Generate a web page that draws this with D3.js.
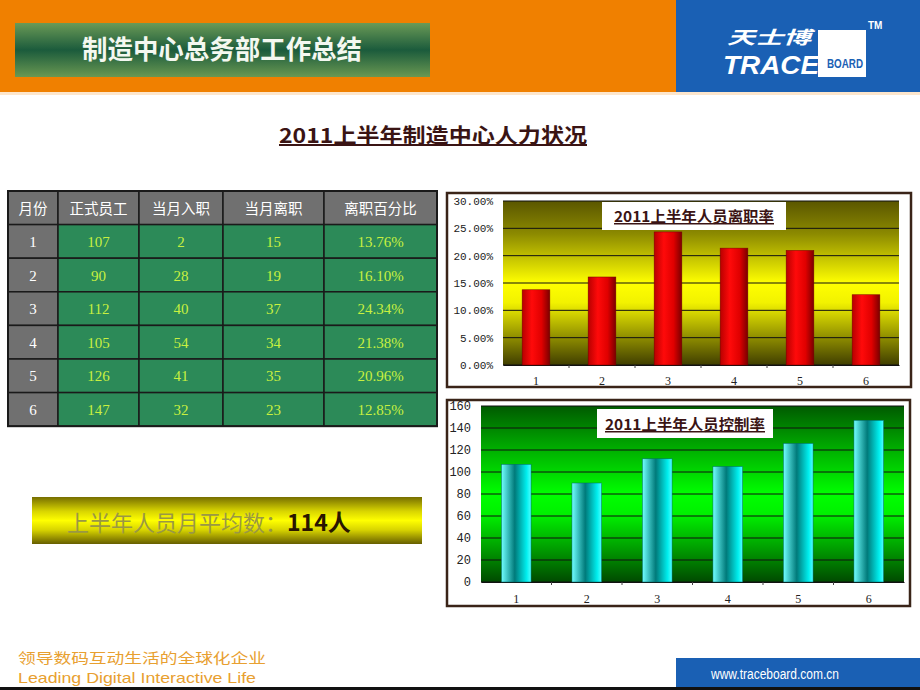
<!DOCTYPE html>
<html><head><meta charset="utf-8">
<script src="https://cdn.jsdelivr.net/npm/d3@7"></script>
<style>body{margin:0;background:#fff}svg{display:block}</style></head>
<body>
<script>
// ---------- data ----------
const months = ["1","2","3","4","5","6"];
const staff = [107, 90, 112, 105, 126, 147];
const joined = [2, 28, 40, 54, 41, 32];
const leftCount = [15, 19, 37, 34, 35, 23];
const leaveRate = [13.76, 16.10, 24.34, 21.38, 20.96, 12.85];
const tableHeaders = ["月份", "正式员工", "当月入职", "当月离职", "离职百分比"];
const rateTicks = [0, 5, 10, 15, 20, 25, 30];
const staffTicks = [0, 20, 40, 60, 80, 100, 120, 140, 160];
const pageTitle = "制造中心总务部工作总结";
const mainTitle = "2011上半年制造中心人力状况";
const chart1Title = "2011上半年人员离职率";
const chart2Title = "2011上半年人员控制率";
const avgLabel = "上半年人员月平均数：";
const avgValue = "114人";

const CJK = "'Noto Sans CJK SC','Noto Sans',sans-serif";
const SERIF = "'Liberation Serif','DejaVu Serif',serif";
const MONO = "'Liberation Mono','DejaVu Sans Mono',monospace";

const svg = d3.select("body").append("svg").attr("width", 920).attr("height", 690);
const defs = svg.append("defs");

function vgrad(id, stops) {
  const g = defs.append("linearGradient").attr("id", id).attr("x1", 0).attr("y1", 0).attr("x2", 0).attr("y2", 1);
  stops.forEach(s => g.append("stop").attr("offset", s[0]).attr("stop-color", s[1]));
}
function hgrad(id, stops) {
  const g = defs.append("linearGradient").attr("id", id).attr("x1", 0).attr("y1", 0).attr("x2", 1).attr("y2", 0);
  stops.forEach(s => g.append("stop").attr("offset", s[0]).attr("stop-color", s[1]));
}
vgrad("hdrGreen", [[0, "#6b9a56"], [0.5, "#1b5b3c"], [1, "#6a9852"]]);
vgrad("yellowBg", [[0, "#5a5600"], [0.2, "#8c8a00"], [0.5, "#ffff00"], [0.62, "#f2f200"], [1, "#403e00"]]);
vgrad("greenBg", [[0, "#005a00"], [0.25, "#00b000"], [0.5, "#00ff00"], [0.62, "#00f000"], [1, "#004a00"]]);
vgrad("avgBg", [[0, "#766e00"], [0.3, "#d8d400"], [0.5, "#ffff00"], [0.7, "#d8d400"], [1, "#665e00"]]);
hgrad("redBar", [[0, "#b80000"], [0.35, "#ff0a0a"], [0.7, "#e00000"], [1, "#7a0000"]]);
hgrad("cyanBar", [[0, "#70ffff"], [0.45, "#007a7a"], [0.85, "#00eeee"], [1, "#50ffff"]]);

// ---------- header ----------
svg.append("rect").attr("x", 0).attr("y", 0).attr("width", 920).attr("height", 92).attr("fill", "#f08000");
svg.append("rect").attr("x", 0).attr("y", 92).attr("width", 920).attr("height", 3).attr("fill", "#fde6cc");
svg.append("rect").attr("x", 676).attr("y", 0).attr("width", 244).attr("height", 92).attr("fill", "#1a60b4");
svg.append("rect").attr("x", 15).attr("y", 23).attr("width", 415).attr("height", 54).attr("fill", "url(#hdrGreen)");
svg.append("text").attr("x", 222).attr("y", 59).attr("text-anchor", "middle")
  .attr("font-family", CJK).attr("font-weight", "bold").attr("font-size", 26).attr("fill", "#f4f8f0")
  .attr("textLength", 280).attr("lengthAdjust", "spacingAndGlyphs").text(pageTitle);

// logo
svg.append("text").attr("x", 727).attr("y", 44).attr("font-family", CJK).attr("font-size", 18)
  .attr("font-weight", "bold").attr("font-style", "italic").attr("fill", "#fff")
  .attr("textLength", 84).attr("lengthAdjust", "spacingAndGlyphs").text("天士博");
svg.append("rect").attr("x", 818).attr("y", 30).attr("width", 48).attr("height", 47).attr("fill", "#fff");
svg.append("text").attr("x", 723).attr("y", 74).attr("font-family", "'Liberation Sans',Arial,sans-serif")
  .attr("font-size", 26).attr("font-weight", "bold").attr("font-style", "italic").attr("fill", "#fff")
  .attr("textLength", 96).attr("lengthAdjust", "spacingAndGlyphs").text("TRACE");
svg.append("text").attr("x", 827).attr("y", 68).attr("font-family", "'Liberation Sans',Arial,sans-serif")
  .attr("font-size", 13).attr("font-weight", "bold").attr("fill", "#1a60b4")
  .attr("textLength", 36).attr("lengthAdjust", "spacingAndGlyphs").text("BOARD");
svg.append("text").attr("x", 868).attr("y", 29).attr("font-family", "'Liberation Sans',Arial,sans-serif")
  .attr("font-size", 10).attr("font-weight", "bold").attr("fill", "#fff").text("TM");

// main title
svg.append("text").attr("x", 433).attr("y", 143).attr("text-anchor", "middle")
  .attr("font-family", CJK).attr("font-weight", "bold").attr("font-size", 20).attr("fill", "#3a1414")
  .attr("text-decoration", "underline")
  .attr("textLength", 308).attr("lengthAdjust", "spacingAndGlyphs").text(mainTitle);

// ---------- table ----------
const colX = [8, 58, 139, 223, 324, 437];
const rowY = d3.range(8).map(i => 191 + i * 33.6);
const tbl = svg.append("g");
const rowsData = months.map((m, i) => [m, staff[i], joined[i], leftCount[i], leaveRate[i].toFixed(2) + "%"]);
tableHeaders.forEach((h, c) => {
  tbl.append("rect").attr("x", colX[c]).attr("y", rowY[0]).attr("width", colX[c + 1] - colX[c]).attr("height", rowY[1] - rowY[0])
    .attr("fill", "#707070").attr("stroke", "#1a1a1a").attr("stroke-width", 1.5);
  tbl.append("text").attr("x", (colX[c] + colX[c + 1]) / 2).attr("y", rowY[0] + 23).attr("text-anchor", "middle")
    .attr("font-family", CJK).attr("font-size", 14.5).attr("fill", "#fff").text(h);
});
rowsData.forEach((row, r) => {
  row.forEach((v, c) => {
    const y0 = rowY[r + 1], y1 = rowY[r + 2];
    tbl.append("rect").attr("x", colX[c]).attr("y", y0).attr("width", colX[c + 1] - colX[c]).attr("height", y1 - y0)
      .attr("fill", c === 0 ? "#707070" : "#2c8a58").attr("stroke", "#1a1a1a").attr("stroke-width", 1.5);
    tbl.append("text").attr("x", (colX[c] + colX[c + 1]) / 2).attr("y", (y0 + y1) / 2 + 5.5).attr("text-anchor", "middle")
      .attr("font-family", SERIF).attr("font-size", 15)
      .attr("fill", c === 0 ? "#ffffff" : "#c8f040").text(v);
  });
});
tbl.append("rect").attr("x", colX[0]).attr("y", rowY[0]).attr("width", colX[5] - colX[0]).attr("height", rowY[7] - rowY[0])
  .attr("fill", "none").attr("stroke", "#1a1a1a").attr("stroke-width", 2);

// ---------- average box ----------
svg.append("rect").attr("x", 32).attr("y", 497).attr("width", 390).attr("height", 47).attr("fill", "url(#avgBg)");
const avgT = svg.append("text").attr("x", 67).attr("y", 531).attr("font-family", CJK).attr("font-size", 22);
avgT.append("tspan").attr("fill", "#9a9844").text(avgLabel);
avgT.append("tspan").attr("fill", "#2a1600").attr("font-weight", "bold").attr("font-size", 23).text(avgValue);

// ---------- chart builder ----------
function barChart(o) {
  const g = svg.append("g");
  g.append("rect").attr("x", o.frame[0]).attr("y", o.frame[1]).attr("width", o.frame[2] - o.frame[0]).attr("height", o.frame[3] - o.frame[1])
    .attr("fill", "#fff").attr("stroke", "#3a2418").attr("stroke-width", 2.5);
  const x = d3.scaleBand().domain(months).range([o.plot[0], o.plot[2]]).paddingInner(o.pad).paddingOuter(o.pad / 2);
  const y = d3.scaleLinear().domain([0, o.max]).range([o.plot[3], o.plot[1]]);
  g.append("rect").attr("x", o.plot[0]).attr("y", o.plot[1]).attr("width", o.plot[2] - o.plot[0]).attr("height", o.plot[3] - o.plot[1])
    .attr("fill", o.bg);
  g.append("g").selectAll("line").data(o.ticks).join("line")
    .attr("x1", o.plot[0]).attr("x2", o.plot[2]).attr("y1", d => y(d)).attr("y2", d => y(d))
    .attr("stroke", "#111").attr("stroke-width", 1);
  const ya = g.append("g").attr("transform", `translate(${o.plot[0]},0)`)
    .call(d3.axisLeft(y).tickValues(o.ticks).tickSize(0).tickPadding(o.ytPad).tickFormat(o.fmt));
  ya.select(".domain").remove();
  ya.selectAll("text").attr("font-family", MONO).attr("font-size", o.yfs).attr("fill", "#222");
  const xa = g.append("g").attr("transform", `translate(0,${o.plot[3]})`)
    .call(d3.axisBottom(x).tickSize(0).tickPadding(o.xtPad));
  xa.select(".domain").attr("stroke", "#111");
  xa.selectAll("text").attr("font-family", SERIF).attr("font-size", 12).attr("fill", "#222");
  g.append("g").selectAll("line").data(months.slice(1)).join("line")
    .attr("x1", d => x(d) - x.step() * x.paddingInner() / 2).attr("x2", d => x(d) - x.step() * x.paddingInner() / 2)
    .attr("y1", o.plot[3]).attr("y2", o.plot[3] + 3).attr("stroke", "#444");
  g.append("g").selectAll("rect").data(o.values).join("rect")
    .attr("x", (d, i) => x(months[i])).attr("width", x.bandwidth())
    .attr("y", d => y(d)).attr("height", d => y(0) - y(d))
    .attr("fill", o.barFill).attr("stroke", o.barStroke).attr("stroke-width", 0.5);
  g.append("rect").attr("x", o.tbox[0]).attr("y", o.tbox[1]).attr("width", o.tbox[2] - o.tbox[0]).attr("height", o.tbox[3] - o.tbox[1])
    .attr("fill", "#fff");
  g.append("text").attr("x", (o.tbox[0] + o.tbox[2]) / 2).attr("y", o.tbox[3] - 8).attr("text-anchor", "middle")
    .attr("font-family", CJK).attr("font-weight", "bold").attr("font-size", 15).attr("fill", "#3a1414")
    .attr("text-decoration", "underline")
    .attr("textLength", o.tlen).attr("lengthAdjust", "spacingAndGlyphs").text(o.title);
}

barChart({
  frame: [447, 193, 911, 387], plot: [503, 201, 899, 365], max: 30, ticks: rateTicks,
  fmt: d => d.toFixed(2) + "%", values: leaveRate, bg: "url(#yellowBg)", barFill: "url(#redBar)", barStroke: "#700",
  pad: 0.58, ytPad: 10, yfs: 11, xtPad: 11, tbox: [602, 202, 786, 230], title: chart1Title, tlen: 160
});
barChart({
  frame: [447, 400, 910, 606], plot: [481, 406, 904, 582], max: 160, ticks: staffTicks,
  fmt: d => d, values: staff, bg: "url(#greenBg)", barFill: "url(#cyanBar)", barStroke: "#066",
  pad: 0.58, ytPad: 10, yfs: 12, xtPad: 12, tbox: [597, 409, 773, 438], title: chart2Title, tlen: 160
});

// ---------- footer ----------
svg.append("text").attr("x", 18).attr("y", 663).attr("font-family", CJK).attr("font-size", 14).attr("fill", "#e8a030")
  .attr("textLength", 248).attr("lengthAdjust", "spacingAndGlyphs").text("领导数码互动生活的全球化企业");
svg.append("text").attr("x", 18).attr("y", 683).attr("font-family", "'Liberation Sans',Arial,sans-serif").attr("font-size", 15).attr("fill", "#e8a030")
  .attr("textLength", 238).attr("lengthAdjust", "spacingAndGlyphs").text("Leading Digital Interactive Life");
svg.append("rect").attr("x", 676).attr("y", 658).attr("width", 244).attr("height", 30).attr("fill", "#1a60b4");
svg.append("rect").attr("x", 0).attr("y", 687).attr("width", 920).attr("height", 3).attr("fill", "#111");
svg.append("text").attr("x", 775).attr("y", 679).attr("text-anchor", "middle").attr("font-family", "'Liberation Sans',Arial,sans-serif")
  .attr("font-size", 14).attr("fill", "#fff").attr("textLength", 128).attr("lengthAdjust", "spacingAndGlyphs").text("www.traceboard.com.cn");
</script>
</body></html>
